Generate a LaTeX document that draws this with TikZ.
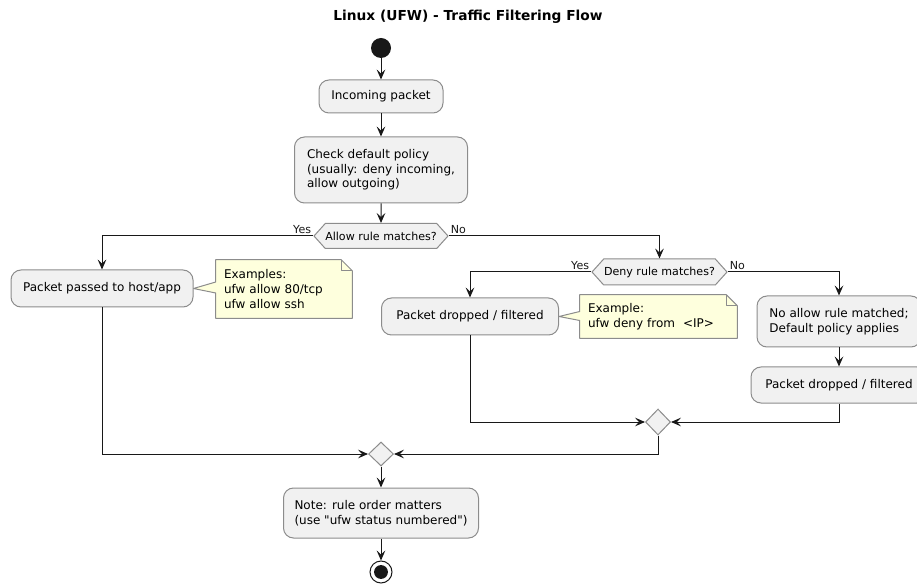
\documentclass[tikz,border=0pt]{standalone}
\usepackage{fontspec}
\setmainfont{DejaVu Sans}[Ligatures=TeXOff]
\usetikzlibrary{shapes.geometric,shapes.symbols,arrows.meta,calc,backgrounds}

\definecolor{lineC}{HTML}{181818}
\definecolor{boxC}{HTML}{8C8C8C}
\definecolor{actC}{HTML}{F1F1F1}
\definecolor{noteC}{HTML}{FEFFDD}

\tikzset{
  action/.style={draw=boxC, fill=actC, rounded corners=7.5pt, line width=0.75pt,
    align=left, inner sep=0pt, font=\fontsize{9}{11}\selectfont},
  choice/.style={draw=boxC, fill=actC, shape=signal, signal to=west and east,
    signal pointer angle=96, line width=0.75pt, inner sep=0pt,
    font=\fontsize{8.3}{10}\selectfont},
  merge/.style={draw=boxC, fill=actC, diamond, line width=0.75pt, inner sep=0pt},
  notetext/.style={align=left, inner xsep=6pt, inner ysep=0pt,
    font=\fontsize{9}{11}\selectfont},
  notebox/.style={draw=boxC, fill=noteC, line width=0.75pt, line join=round},
  flow/.style={draw=lineC, line width=0.75pt,
    -{Stealth[length=7.5pt,width=6.5pt,inset=3pt]}},
  branch/.style={font=\fontsize{8.3}{10}\selectfont, inner sep=1.5pt, text=lineC}
}

\begin{document}
\begin{tikzpicture}[x=0.75pt,y=-0.75pt]
  \useasboundingbox (0,0) rectangle (917,584);

  % Title
  \node[font=\fontsize{10.3}{12}\selectfont\bfseries] (title) at (468,17)
    {Linux (UFW) - Traffic Filtering Flow};

  % Start
  \node[circle, fill=lineC, minimum size=15pt, inner sep=0pt] (start) at (381,48) {};

  % Main column
  \node[action, minimum width=93pt, minimum height=24.75pt] (inc) at (381,96.5)
    {Incoming packet};
  \node[action, minimum width=129.75pt, minimum height=49.5pt] (check) at (381,170)
    {Check default policy\\(usually: deny incoming,\\allow outgoing)};
  \node[choice, minimum width=96.75pt, minimum height=18.75pt] (allow) at (381,236)
    {Allow rule matches?};

  % Allow branch
  \node[action, minimum width=136.5pt, minimum height=27.75pt] (pass) at (102,288.5)
    {Packet passed to host/app};
  \node[notetext, text width=90pt, minimum height=43.5pt] (ex1) at (284,289)
    {Examples:\\ufw allow 80/tcp\\ufw allow ssh};

  % Deny branch
  \node[choice, minimum width=101.25pt, minimum height=19.5pt] (deny) at (659.5,272)
    {Deny rule matches?};
  \node[action, minimum width=132.75pt, minimum height=27.75pt] (drop1) at (470,316.5)
    {Packet dropped / filtered};
  \node[notetext, text width=105.75pt, minimum height=32.25pt] (ex2) at (658.5,316.5)
    {Example:\\ufw deny from \ <IP>};
  \node[action, minimum width=123pt, minimum height=38.25pt] (noallow) at (839,321.5)
    {No allow rule matched;\\Default policy applies};
  \node[action, minimum width=132pt, minimum height=27pt] (drop2) at (839,385)
    {Packet dropped / filtered};

  % Joins
  \node[merge, minimum width=18.75pt, minimum height=19.5pt] (join1) at (658,422) {};
  \node[merge, minimum width=18.75pt, minimum height=18pt] (join2) at (381,454) {};

  % End
  \node[action, minimum width=146.25pt, minimum height=37.5pt] (last) at (381,513)
    {Note: rule order matters\\(use "ufw status numbered")};
  \node[circle, draw=lineC, fill=white, line width=0.75pt, minimum size=16.5pt,
    inner sep=0pt] (stop) at (381,572) {};
  \fill[lineC] (stop.center) circle (5.2pt);

  % Notes
  \begin{scope}[on background layer]
    \draw[notebox] (ex1.north west) -- ($(ex1.north east)+(-11,0)$)
      -- ($(ex1.north east)+(0,11)$) -- (ex1.south east) -- (ex1.south west)
      -- ($(ex1.west)+(0,4)$) -- (pass.east) -- ($(ex1.west)+(0,-7)$) -- cycle;
    \draw[notebox, fill=none] ($(ex1.north east)+(-11,0)$)
      -- ($(ex1.north east)+(-11,11)$) -- ($(ex1.north east)+(0,11)$);
    \draw[notebox] (ex2.north west) -- ($(ex2.north east)+(-11,0)$)
      -- ($(ex2.north east)+(0,11)$) -- (ex2.south east) -- (ex2.south west)
      -- ($(ex2.west)+(0,4)$) -- (drop1.east) -- ($(ex2.west)+(0,-5)$) -- cycle;
    \draw[notebox, fill=none] ($(ex2.north east)+(-11,0)$)
      -- ($(ex2.north east)+(-11,11)$) -- ($(ex2.north east)+(0,11)$);
  \end{scope}

  % Flow
  \draw[flow] (start) -- (inc);
  \draw[flow] (inc) -- (check);
  \draw[flow] (check) -- (allow);
  \draw[flow] (allow.west) -| (pass.north);
  \draw[flow] (allow.east) -| (deny.north);
  \draw[flow] (deny.west) -| (drop1.north);
  \draw[flow] (deny.east) -| (noallow.north);
  \draw[flow] (noallow) -- (drop2);
  \draw[flow] (drop1.south) |- (join1.west);
  \draw[flow] (drop2.south) |- (join1.east);
  \draw[flow] (join1.south) |- (join2.east);
  \draw[flow] (pass.south) |- (join2.west);
  \draw[flow] (join2) -- (last);
  \draw[flow] (last) -- (stop);

  % Branch labels
  \node[branch, anchor=south east] (yes1) at (allow.west) {Yes};
  \node[branch, anchor=south west] (no1) at (allow.east) {No};
  \node[branch, anchor=south east] (yes2) at (deny.west) {Yes};
  \node[branch, anchor=south west] (no2) at (deny.east) {No};
\end{tikzpicture}
\end{document}
